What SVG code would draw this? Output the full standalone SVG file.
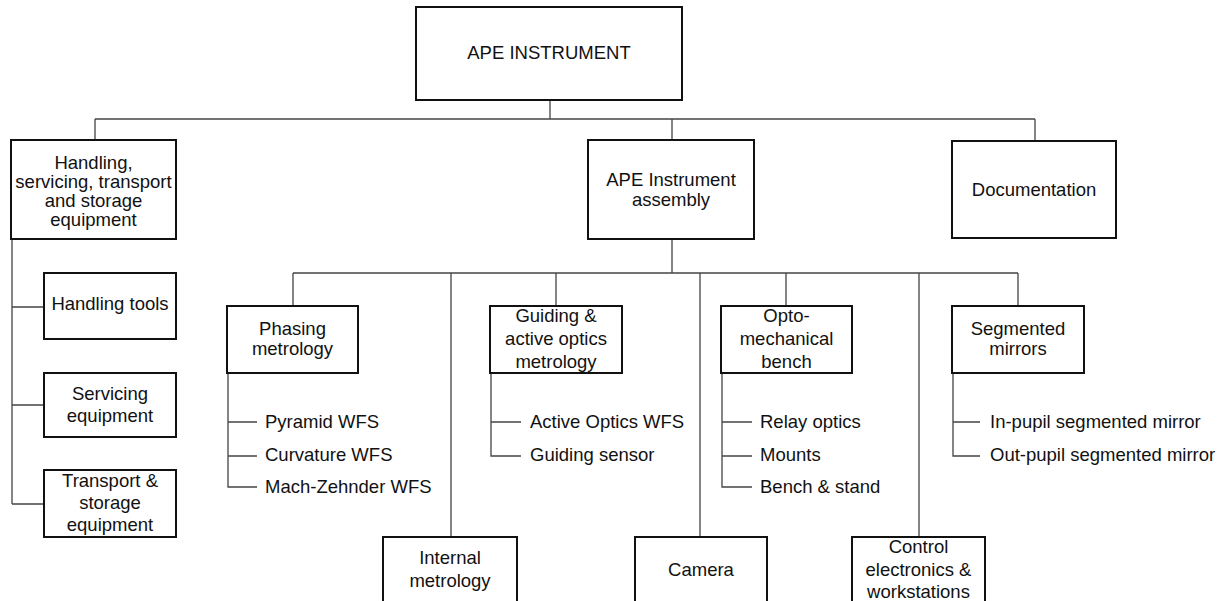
<svg xmlns="http://www.w3.org/2000/svg" width="1226" height="601" viewBox="0 0 1226 601">
<style>
.box{fill:#fff;stroke:#111;stroke-width:2}
.c{fill:none;stroke:#444;stroke-width:1.3}
text{font-family:"Liberation Sans",Arial,sans-serif;font-size:18.5px;fill:#111}
.m{text-anchor:middle}
</style>
<rect width="1226" height="601" fill="#fff"/>
<g id="connectors">
<path class="c" d="M550,100V119M95,119H1035M95,119V140M672,119V140M1035,119V141"/>
<path class="c" d="M12,239V504M12,307H44M12,405H44M12,504H44"/>
<path class="c" d="M672,239V273M293,273H1018M293,273V306M451,273V537M556,273V306M700,273V537M786,273V306M919,273V537M1018,273V306"/>
<path class="c" d="M228,373V487H257M228,422H257M228,456H257"/>
<path class="c" d="M491,373V456H521M491,422H521"/>
<path class="c" d="M722,373V487H752M722,422H752M722,456H752"/>
<path class="c" d="M953,373V456H980M953,422H980"/>
</g>
<g id="ape-instrument"><rect class="box" x="416" y="7" width="266" height="93"/><text class="m" x="549" y="59">APE INSTRUMENT</text></g>
<g id="handling"><rect class="box" x="11" y="140" width="165" height="99"/><text class="m" x="93.5" y="169">Handling,</text><text class="m" x="93.5" y="188">servicing, transport</text><text class="m" x="93.5" y="207">and storage</text><text class="m" x="93.5" y="226">equipment</text></g>
<g id="assembly"><rect class="box" x="588" y="140" width="166" height="99"/><text class="m" x="671" y="186">APE Instrument</text><text class="m" x="671" y="206">assembly</text></g>
<g id="documentation"><rect class="box" x="952" y="141" width="164" height="97"/><text class="m" x="1034" y="196">Documentation</text></g>
<g id="handling-tools"><rect class="box" x="44" y="273" width="132" height="66"/><text class="m" x="110" y="310">Handling tools</text></g>
<g id="servicing"><rect class="box" x="44" y="373" width="132" height="64"/><text class="m" x="110" y="400">Servicing</text><text class="m" x="110" y="422">equipment</text></g>
<g id="transport"><rect class="box" x="44" y="470" width="132" height="67"/><text class="m" x="110" y="487">Transport &amp;</text><text class="m" x="110" y="509">storage</text><text class="m" x="110" y="531">equipment</text></g>
<g id="phasing"><rect class="box" x="227" y="306" width="131" height="67"/><text class="m" x="292.5" y="335">Phasing</text><text class="m" x="292.5" y="355">metrology</text>
<text x="265" y="428">Pyramid WFS</text><text x="265" y="461">Curvature WFS</text><text x="265" y="493">Mach-Zehnder WFS</text></g>
<g id="internal"><rect class="box" x="383" y="537" width="134" height="72"/><text class="m" x="450" y="564">Internal</text><text class="m" x="450" y="587">metrology</text></g>
<g id="guiding"><rect class="box" x="490" y="306" width="132" height="67"/><text class="m" x="556" y="322">Guiding &amp;</text><text class="m" x="556" y="345">active optics</text><text class="m" x="556" y="368">metrology</text>
<text x="530" y="428">Active Optics WFS</text><text x="530" y="461">Guiding sensor</text></g>
<g id="camera"><rect class="box" x="635" y="537" width="132" height="72"/><text class="m" x="701" y="576">Camera</text></g>
<g id="opto"><rect class="box" x="721" y="306" width="131" height="67"/><text class="m" x="786.5" y="322">Opto-</text><text class="m" x="786.5" y="345">mechanical</text><text class="m" x="786.5" y="368">bench</text>
<text x="760" y="428">Relay optics</text><text x="760" y="461">Mounts</text><text x="760" y="493">Bench &amp; stand</text></g>
<g id="control"><rect class="box" x="852" y="537" width="133" height="72"/><text class="m" x="918.5" y="553">Control</text><text class="m" x="918.5" y="576">electronics &amp;</text><text class="m" x="918.5" y="598">workstations</text></g>
<g id="segmented"><rect class="box" x="952" y="306" width="132" height="67"/><text class="m" x="1018" y="335">Segmented</text><text class="m" x="1018" y="355">mirrors</text>
<text x="990" y="428">In-pupil segmented mirror</text><text x="990" y="461">Out-pupil segmented mirror</text></g>
</svg>
